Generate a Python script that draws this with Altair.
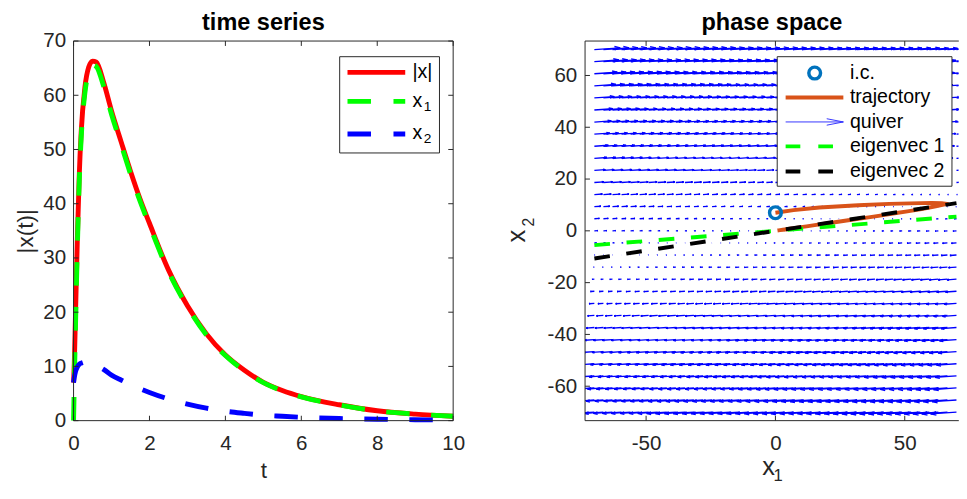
import altair as alt
import numpy as np
import pandas as pd

FONT = "Liberation Sans"
AX = "#262626"

# ---------------- data ----------------
t_vals = [0, 0.02, 0.05, 0.1, 0.15, 0.2, 0.3, 0.4, 0.5, 0.6, 0.8, 1.0, 1.25, 1.5,
          1.75, 2.0, 2.5, 3.0, 3.5, 4.0, 4.5, 5.0, 5.5, 6.0, 7.0, 8.0, 9.0, 10.0]
x1_vals = [0, 7, 17, 32, 44, 52, 60.5, 64.3, 65.6, 65.3, 61.5, 56.5, 51, 45.5,
           40.5, 36, 27.5, 21, 15.8, 12, 9.2, 7, 5.5, 4.4, 2.9, 1.8, 1.2, 0.8]
x2_vals = [7.0, 8.0, 9.0, 9.9, 10.4, 10.6, 10.8, 10.7, 10.5, 10.2, 9.4, 8.4, 7.5, 6.7,
           5.9, 5.2, 4.0, 3.05, 2.3, 1.75, 1.35, 1.0, 0.8, 0.62, 0.4, 0.26, 0.17, 0.11]
xnorm_vals = [7.0, 10.6, 19.2, 33.5, 45.2, 53.1, 61.5, 65.2, 66.3, 66.1, 62.2, 57.1, 51.5, 46.0,
              40.9, 36.4, 27.8, 21.2, 16.0, 12.1, 9.3, 7.07, 5.56, 4.44, 2.93, 1.82, 1.21, 0.81]

ts_xticks = [0, 2, 4, 6, 8, 10]
ts_yticks = [0, 10, 20, 30, 40, 50, 60, 70]
ps_xticks = [-50, 0, 50]
ps_yticks = [-60, -40, -20, 0, 20, 40, 60]

ic_x1 = [0.0]
ic_x2 = [7.0]
eig1_x1 = [-70, 70]
eig1_x2 = [-5.5, 5.5]
eig2_x1 = [-70, 70]
eig2_x2 = [-10.7, 10.7]

# quiver grid and the (estimated) system matrix that defines the arrows
grid_x1 = list(np.linspace(-70, 70, 41))
grid_x2 = list(np.linspace(-70, 70, 31))
A = [[-8.0, 50.0], [-0.57, 3.35]]

# ---------------- layout constants ----------------
LW, LH = 388, 388
RW, RH = 382, 388
R_XDOM = [-73.6, 70.9]
R_YDOM = [-73.3, 73.3]

# ---------------- tables ----------------
ts_df = pd.DataFrame({"t": t_vals, "x1": x1_vals, "x2": x2_vals, "xn": xnorm_vals})
ic_df = pd.DataFrame({"x1": ic_x1, "x2": ic_x2})
e1_df = pd.DataFrame({"x1": eig1_x1, "x2": eig1_x2})
e2_df = pd.DataFrame({"x1": eig2_x1, "x2": eig2_x2})


def clip_x(xa, ya, xb, yb, lo, hi):
    """Trim a segment to lo <= x <= hi (so nothing spills past the axes)."""
    if (xa > hi and xb > hi) or (xa < lo and xb < lo):
        return None
    def cut(x0, y0, x1, y1, edge):
        f = (edge - x0) / (x1 - x0)
        return edge, y0 + f * (y1 - y0)
    if xa > hi:
        xa, ya = cut(xb, yb, xa, ya, hi)
    if xb > hi:
        xb, yb = cut(xa, ya, xb, yb, hi)
    if xa < lo:
        xa, ya = cut(xb, yb, xa, ya, lo)
    if xb < lo:
        xb, yb = cut(xa, ya, xb, yb, lo)
    return (xa, ya, xb, yb)


QSCALE = 10.0 / 4060.0
HEAD_A, HEAD_B = 0.22, 0.3
segs = []
for gx in grid_x1:
    for gy in grid_x2:
        u = A[0][0] * gx + A[0][1] * gy
        v = A[1][0] * gx + A[1][1] * gy
        du, dv = u * QSCALE, v * QSCALE
        tx, ty = gx + du, gy + dv
        parts = [
            (gx, gy, tx, ty),
            (tx - HEAD_A * (du + HEAD_B * dv), ty - HEAD_A * (dv - HEAD_B * du), tx, ty),
            (tx - HEAD_A * (du - HEAD_B * dv), ty - HEAD_A * (dv + HEAD_B * du), tx, ty),
        ]
        for p in parts:
            c = clip_x(*p, R_XDOM[0], R_XDOM[1] - 0.05)
            if c is not None:
                segs.append(c)
quiver_df = pd.DataFrame(segs, columns=["xa", "ya", "xb", "yb"])

one = pd.DataFrame({"k": [0]})

L_X = alt.Scale(domain=[0, 10], nice=False, zero=False)
L_Y = alt.Scale(domain=[0, 70], nice=False, zero=False)
R_X = alt.Scale(domain=R_XDOM, nice=False, zero=False)
R_Y = alt.Scale(domain=R_YDOM, nice=False, zero=False)

LEXPR = "'' + datum.value"
ax_lx = alt.Axis(title="t", values=ts_xticks, labelExpr=LEXPR, labelPadding=12, titlePadding=7,
                 labelFlush=False, labelOverlap=False)
ax_ly = alt.Axis(title="|x(t)|", values=ts_yticks, labelExpr=LEXPR, labelPadding=8, titlePadding=6,
                 labelOverlap=False)
ax_rx = alt.Axis(title="x", values=ps_xticks, labelExpr=LEXPR, labelPadding=12, titlePadding=0.8,
                 titleFontSize=26, titleX=187, labelFlush=False, labelOverlap=False)
ax_ry = alt.Axis(title="x", values=ps_yticks, labelExpr=LEXPR, labelPadding=8.5, titlePadding=18.3,
                 titleFontSize=26, titleY=199, labelOverlap=False)


def LXf(f):
    return alt.X(f, type="quantitative", scale=L_X, axis=ax_lx)


def LYf(f):
    return alt.Y(f, type="quantitative", scale=L_Y, axis=ax_ly)


def RXf(f):
    return alt.X(f, type="quantitative", scale=R_X, axis=ax_rx)


def RYf(f):
    return alt.Y(f, type="quantitative", scale=R_Y, axis=ax_ry)


def hrule(x0, x1, y, color, width, dash=None):
    kw = dict(color=color, strokeWidth=width)
    if dash:
        kw["strokeDash"] = dash
    return alt.Chart(one).mark_rule(**kw).encode(x=alt.value(x0), x2=alt.value(x1), y=alt.value(y))


def seg(x0, y0, x1, y1, color, width):
    return alt.Chart(one).mark_rule(color=color, strokeWidth=width).encode(
        x=alt.value(x0), x2=alt.value(x1), y=alt.value(y0), y2=alt.value(y1))


def txt(s, x, y, size=20, align="left", color="#000000", angle=0, opacity=1, baseline="middle"):
    kw = dict(text=s, align=align, baseline=baseline, font=FONT, fontSize=size, color=color,
              opacity=opacity)
    if angle:
        kw["angle"] = angle
    return alt.Chart(one).mark_text(**kw).encode(x=alt.value(x), y=alt.value(y))


def box(x0, x1, y0, y1):
    return alt.Chart(one).mark_rect(fill="white", stroke=AX, strokeWidth=1).encode(
        x=alt.value(x0), x2=alt.value(x1), y=alt.value(y0), y2=alt.value(y1))


def frame(W, H):
    return alt.Chart(one).mark_rect(fillOpacity=0, stroke=AX, strokeWidth=1).encode(
        x=alt.value(0), x2=alt.value(W), y=alt.value(0), y2=alt.value(H))


def ticks(vals, scale, ax, W, H, axis_is_x=True, both=True):
    d = pd.DataFrame({"v": vals})
    base = alt.Chart(d).mark_rule(color=AX, strokeWidth=1)
    out = []
    if axis_is_x:
        enc = alt.X("v:Q", scale=scale, axis=ax)
        out.append(base.encode(x=enc, y=alt.value(H), y2=alt.value(H - 5)))
        out.append(base.encode(x=enc, y=alt.value(0), y2=alt.value(5)))
    else:
        enc = alt.Y("v:Q", scale=scale, axis=ax)
        out.append(base.encode(y=enc, x=alt.value(0), x2=alt.value(5)))
        if both:
            out.append(base.encode(y=enc, x=alt.value(W - 5), x2=alt.value(W)))
    return out


def ptitle(s):
    return alt.TitleParams(s, fontSize=24, fontWeight="bold", font=FONT, color="#000000",
                           offset=-5, anchor="middle", frame="group")


# ---------------- left panel: time series ----------------
ts = alt.Chart(ts_df)
red = ts.mark_line(color="#FF0000", strokeWidth=5, interpolate="monotone").encode(x=LXf("t"), y=LYf("xn"))
green = ts.mark_line(color="#00FF00", strokeWidth=5, strokeDash=[24, 22], interpolate="monotone").encode(
    x=LXf("t"), y=LYf("x1"))
blue = ts.mark_line(color="#0000FF", strokeWidth=5, strokeDash=[24, 22], interpolate="monotone").encode(
    x=LXf("t"), y=LYf("x2"))

left_layers = [red, green, blue]
left_layers += ticks(ts_xticks, L_X, ax_lx, LW, LH, axis_is_x=True)
left_layers += ticks(ts_yticks, L_Y, ax_ly, LW, LH, axis_is_x=False)
left_layers.append(frame(LW, LH))
left_layers += [
    box(272, 374, 16, 114.4),
    hrule(280, 339, 32, "#FF0000", 5),
    hrule(280, 339, 61.7, "#00FF00", 5, [24, 23]),
    hrule(280, 339, 95, "#0000FF", 5, [24, 23]),
    txt("|x|", 346.4, 32),
    txt("x", 346.4, 61),
    txt("1", 358, 67, size=14),
    txt("x", 346.4, 94.3),
    txt("2", 358, 100.3, size=14),
]
left = alt.layer(*left_layers).properties(width=LW, height=LH, title=ptitle("time series"))

# ---------------- right panel: phase space ----------------
quiv = alt.Chart(quiver_df).mark_rule(color="#0000FF", strokeWidth=1.4, clip=True).encode(
    x=RXf("xa"), y=RYf("ya"), x2="xb", y2="yb")
traj = alt.Chart(ts_df).mark_line(color="#D95319", strokeWidth=4, clip=True).encode(
    x=RXf("x1"), y=RYf("x2"), order="t:Q")
e1 = alt.Chart(e1_df).mark_line(color="#00FF00", strokeWidth=4, strokeDash=[16, 17], clip=True).encode(
    x=RXf("x1"), y=RYf("x2"))
e2 = alt.Chart(e2_df).mark_line(color="#000000", strokeWidth=4, strokeDash=[16, 17], clip=True).encode(
    x=RXf("x1"), y=RYf("x2"))
icm = alt.Chart(ic_df).mark_point(shape="circle", filled=False, color="#0072BD", size=144,
                                  strokeWidth=3.5, opacity=1).encode(x=RXf("x1"), y=RYf("x2"))

right_layers = [quiv, traj, e1, e2, icm]
right_layers += ticks(ps_xticks, R_X, ax_rx, RW, RH, axis_is_x=True)
right_layers += ticks(ps_yticks, R_Y, ax_ry, RW, RH, axis_is_x=False, both=False)
right_layers += [
    seg(0, 0, 0, RH, AX, 1),
    hrule(0, RW, 0, AX, 1),
    hrule(0, RW, RH, AX, 1),
    # invisible spacer so both panels reserve the same room above the frame
    txt("0", -8.5, 0, size=21, align="right", opacity=0),
    # subscripts of the axis titles
    txt("1", 197.4, 450, size=17, align="center", color=AX, baseline="alphabetic"),
    txt("2", -56.8, 185.2, size=16, align="center", color=AX, angle=270),
]
LGX0, LGX1 = 205, 264
right_layers += [
    box(196.4, 375, 16, 148.4),
    alt.Chart(one).mark_point(shape="circle", filled=False, color="#0072BD", size=144,
                              strokeWidth=3.5, opacity=1).encode(x=alt.value(234.7), y=alt.value(32.7)),
    hrule(LGX0, LGX1, 57.7, "#D95319", 4),
    hrule(LGX0, LGX1, 82.7, "#3333FF", 1),
    seg(LGX1 - 17, 79.4, LGX1, 82.7, "#3333FF", 1),
    seg(LGX1 - 17, 86.0, LGX1, 82.7, "#3333FF", 1),
    hrule(LGX0, LGX1, 107.7, "#00FF00", 4, [15, 18.4]),
    hrule(LGX0, LGX1, 133.4, "#000000", 4, [15, 18.4]),
    txt("i.c.", 270.7, 32.7),
    txt("trajectory", 270.7, 57.7),
    txt("quiver", 270.7, 82.7),
    txt("eigenvec 1", 270.7, 107.7),
    txt("eigenvec 2", 270.7, 133.4),
]
right = alt.layer(*right_layers).properties(width=RW, height=RH, title=ptitle("phase space"))

chart = alt.hconcat(left, right, spacing=38.8).properties(
    padding={"left": 6, "top": -1.5, "right": -1, "bottom": -4.4}
).configure_axis(
    labelFont=FONT, labelFontSize=21, labelColor=AX, titleFont=FONT, titleFontSize=23,
    titleFontWeight="normal", titleColor=AX, grid=False, ticks=False, tickSize=0, domain=False
).configure_view(stroke=None)

chart.save("out.html", embed_options={"renderer": "svg", "actions": False})
